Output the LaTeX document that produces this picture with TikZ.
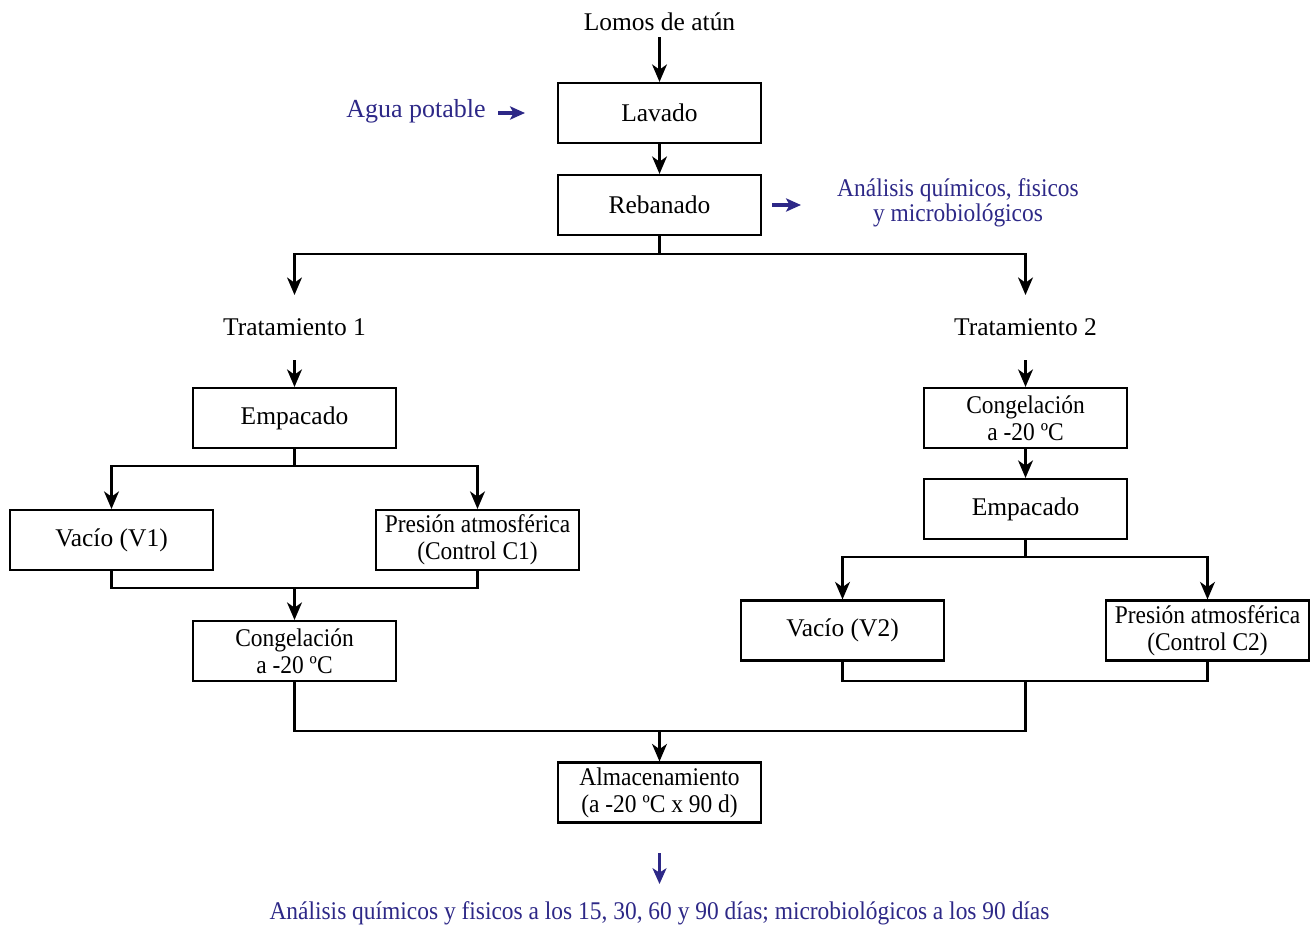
\documentclass[tikz,border=0pt]{standalone}
\usepackage{fontspec}
\setmainfont{Liberation Serif}
\newfontfamily\narrowfont{Liberation Serif}[FakeStretch=0.92]
\usetikzlibrary{arrows.meta}
\definecolor{navy}{RGB}{45,40,135}

\begin{document}
\begin{tikzpicture}[x=0.02cm, y=-0.02cm,
        box/.style={draw, line width=1.2pt, minimum width=4.06cm, minimum height=1.2cm,
            align=center, inner sep=1pt, font=\fontsize{14.5}{15.5}\selectfont},
        twoline/.style={box, font=\narrowfont\fontsize{14.5}{15.5}\selectfont},
        lbl/.style={align=center, font=\fontsize{14.5}{15.5}\selectfont},
        note/.style={align=center, text=navy, font=\narrowfont\fontsize{14.5}{14.5}\selectfont},
        arr/.style={line width=1.2pt, -{Stealth[length=10pt, width=8.5pt, inset=3pt]}},
        bluearr/.style={navy, line width=2.2pt, -{Stealth[length=8.5pt, width=7.5pt, inset=2pt]}}]
        \useasboundingbox (0,0) rectangle (1311,926);

        % entrada y primeras etapas
        \node[lbl] (lomos) at (659.5,22) {Lomos de atún};
        \node[box] (lavado) at (659.5,113) {Lavado};
        \node[box] (rebanado) at (659.5,205) {Rebanado};
        \node[note, font=\fontsize{14.8}{15}\selectfont] (agua) at (416,111) {Agua potable};
        \node[note] (analisis) at (958,203) {Análisis químicos, fisicos\\y microbiológicos};
        \coordinate (aguastart) at (498,113);
        \coordinate (aguaend) at (525,113);
        \coordinate (anastart) at (772,205);
        \coordinate (anaend) at (801,205);

        \draw[arr] (lomos) -- (lavado);
        \draw[arr] (lavado) -- (rebanado);
        \draw[bluearr] (aguastart) -- (aguaend);
        \draw[bluearr] (anastart) -- (anaend);

        % dos tratamientos
        \node[lbl] (trat1) at (294.5,327) {Tratamiento 1};
        \node[lbl] (trat2) at (1025.5,327) {Tratamiento 2};
        \coordinate (split0) at (659.5,254);
        \coordinate (trat1in) at (294.5,295);
        \coordinate (trat2in) at (1025.5,295);
        \draw[line width=1.2pt] (rebanado) -- (split0);
        \draw[arr] (split0) -| (trat1in);
        \draw[arr] (split0) -| (trat2in);

        % tratamiento 1
        \node[box] (emp1) at (294.5,418) {Empacado};
        \node[box] (vac1) at (111.5,540) {Vacío (V1)};
        \node[twoline] (pres1) at (477.5,540) {Presión atmosférica\\(Control C1)};
        \node[twoline] (cong1) at (294.5,651) {Congelación\\a -20 ºC};
        \coordinate (trat1out) at (294.5,360);
        \coordinate (split1) at (294.5,466);
        \coordinate (join1) at (294.5,588);
        \draw[arr] (trat1out) -- (emp1);
        \draw[line width=1.2pt] (emp1) -- (split1);
        \draw[arr] (split1) -| (vac1);
        \draw[arr] (split1) -| (pres1);
        \draw[line width=1.2pt] (vac1) |- (join1);
        \draw[line width=1.2pt] (pres1) |- (join1);
        \draw[arr] (join1) -- (cong1);

        % tratamiento 2
        \node[twoline] (cong2) at (1025.5,418) {Congelación\\a -20 ºC};
        \node[box] (emp2) at (1025.5,509) {Empacado};
        \node[box] (vac2) at (842.5,630.5) {Vacío (V2)};
        \node[twoline] (pres2) at (1207.5,630.5) {Presión atmosférica\\(Control C2)};
        \coordinate (trat2out) at (1025.5,360);
        \coordinate (split2) at (1025.5,557);
        \coordinate (join2) at (1025.5,681);
        \draw[arr] (trat2out) -- (cong2);
        \draw[arr] (cong2) -- (emp2);
        \draw[line width=1.2pt] (emp2) -- (split2);
        \draw[arr] (split2) -| (vac2);
        \draw[arr] (split2) -| (pres2);
        \draw[line width=1.2pt] (vac2) |- (join2);
        \draw[line width=1.2pt] (pres2) |- (join2);

        % almacenamiento
        \node[twoline] (alm) at (659.5,792.5) {Almacenamiento\\(a -20 ºC x 90 d)};
        \node[note] (final) at (659.5,913) {Análisis químicos y fisicos a los 15, 30, 60 y 90 días; microbiológicos a los 90 días};
        \coordinate (join3) at (659.5,731);
        \coordinate (finstart) at (659.5,853);
        \coordinate (finend) at (659.5,884);
        \draw[line width=1.2pt] (cong1) |- (join3);
        \draw[line width=1.2pt] (join2) |- (join3);
        \draw[arr] (join3) -- (alm);
        \draw[navy, line width=1.3pt, -{Stealth[length=9pt, width=8pt, inset=2.5pt]}] (finstart) -- (finend);
    \end{tikzpicture}
\end{document}
